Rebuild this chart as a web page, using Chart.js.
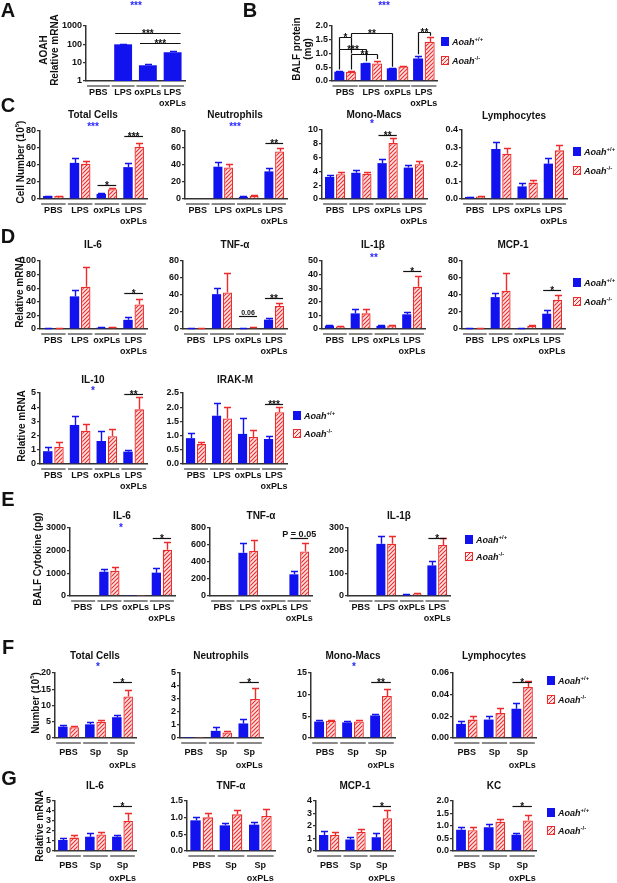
<!DOCTYPE html>
<html>
<head>
<meta charset="utf-8">
<script src="https://cdn.jsdelivr.net/npm/chart.js@4.4.0/dist/chart.umd.min.js"></script>
<style>
  body { margin: 0; background: #fff; }
  #fig { position: relative; width: 617px; height: 883px; overflow: hidden;
         font-family: 'Liberation Sans', Arial, sans-serif; font-weight: bold; color: #111; }
  #fig canvas { position: absolute; left: 0; top: 0; }
  .t { position: absolute; white-space: nowrap; transform: translate(-50%, -50%); line-height: 1; }
  .rot { transform: translate(-50%, -50%) rotate(-90deg); text-align: center; }
  .sw { position: absolute; width: 6px; height: 7px; }
  .sw.wt { background: #1212ee; border: 1px solid #1212ee; }
  .sw.ko { border: 1px solid #ee2b2b;
           background: repeating-linear-gradient(-45deg, #ee2b2b 0 1px, #fde3e3 1px 3px); }
  .leg { position: absolute; font-size: 9px; font-style: italic; white-space: nowrap;
         line-height: 1; transform: translateY(-50%); }
  .leg sup { font-size: 6px; font-style: normal; vertical-align: 4px; }
</style>
</head>
<body>
<div id="fig"></div>
<script>
// ===== DATA =====
const lpsCats = ['PBS', 'LPS', 'oxPLs', ['LPS', 'oxPLs']];
const spCats = ['PBS', 'Sp', ['Sp', 'oxPLs']];

// A - AOAH relative mRNA (Aoah+/+ only)
const aoahWT = [1, 100, 7.2, 37];
const aoahWTErr = [0, 6, 1.6, 4];

// B - BALF protein (mg)
const protWT = [0.34, 0.65, 0.46, 0.82];
const protKO = [0.34, 0.64, 0.53, 1.42];
const protWTErr = [0.02, 0.02, 0.02, 0.1];
const protKOErr = [0.02, 0.1, 0.03, 0.17];

// C - BALF cells (10^5)
const cTotalWT = [3.5, 42.5, 6, 37.5];
const cTotalKO = [3.5, 41.5, 11.5, 61.5];
const cTotalWTErr = [0.5, 5.5, 0.8, 5];
const cTotalKOErr = [0.5, 3.5, 1.5, 4.5];
const cNeutWT = [0, 38, 2.5, 32.5];
const cNeutKO = [0, 37, 3.5, 56];
const cNeutWTErr = [0, 5.5, 1.5, 4.5];
const cNeutKOErr = [0, 4, 1, 4];
const cMonoWT = [3.2, 3.8, 5.2, 4.55];
const cMonoKO = [3.6, 3.65, 8.1, 5.05];
const cMonoWTErr = [0.3, 0.35, 0.55, 0.4];
const cMonoKOErr = [0.3, 0.3, 0.8, 0.5];
const cLymWT = [0.012, 0.29, 0.073, 0.205];
const cLymKO = [0.015, 0.262, 0.095, 0.282];
const cLymWTErr = [0.002, 0.04, 0.017, 0.033];
const cLymKOErr = [0.002, 0.036, 0.016, 0.032];

// D - lung relative mRNA
const dIl6WT = [1, 48, 2, 13.5];
const dIl6KO = [1, 62, 2.5, 36];
const dIl6WTErr = [0.3, 10, 0.5, 4];
const dIl6KOErr = [0.3, 29, 0.8, 8.5];
const dTnfWT = [1, 41, 1, 11];
const dTnfKO = [0.8, 43, 1.5, 27];
const dTnfWTErr = [0.3, 7.5, 0.3, 2];
const dTnfKOErr = [0.3, 22.5, 0.5, 4];
const dIl1bWT = [2.5, 11.5, 2.3, 10.8];
const dIl1bKO = [1.8, 11.5, 2.6, 31];
const dIl1bWTErr = [0.6, 3.3, 0.6, 1.8];
const dIl1bKOErr = [0.5, 3.2, 0.5, 8.3];
const dMcpWT = [1, 37.5, 1, 18];
const dMcpKO = [1, 45, 3.5, 34.5];
const dMcpWTErr = [0.3, 4.5, 0.3, 4.5];
const dMcpKOErr = [0.3, 20.5, 0.8, 6];
const dIl10WT = [0.9, 2.75, 1.62, 0.87];
const dIl10KO = [1.22, 2.35, 1.95, 3.85];
const dIl10WTErr = [0.28, 0.65, 0.68, 0.1];
const dIl10KOErr = [0.3, 0.47, 0.5, 0.85];
const dIrakWT = [0.91, 1.7, 1.06, 0.88];
const dIrakKO = [0.7, 1.6, 0.95, 1.82];
const dIrakWTErr = [0.17, 0.45, 0.57, 0.09];
const dIrakKOErr = [0.09, 0.39, 0.26, 0.19];

// E - BALF cytokine (pg)
const eIl6WT = [0, 1070, 15, 1030];
const eIl6KO = [0, 1110, 8, 2040];
const eIl6WTErr = [0, 140, 0, 220];
const eIl6KOErr = [0, 170, 0, 340];
const eTnfWT = [0, 508, 0, 255];
const eTnfKO = [0, 530, 0, 525];
const eTnfWTErr = [0, 120, 0, 42];
const eTnfKOErr = [0, 125, 0, 100];
const eIl1bWT = [0, 230, 5, 135];
const eIl1bKO = [0, 230, 10, 225];
const eIl1bWTErr = [0, 35, 2, 20];
const eIl1bKOErr = [0, 36, 2, 30];

// F - S. pneumoniae, BALF cells (10^5)
const fTotalWT = [3.5, 4.2, 6.4];
const fTotalKO = [3.3, 5, 12.8];
const fTotalWTErr = [0.4, 0.6, 0.8];
const fTotalKOErr = [0.4, 0.6, 2];
const fNeutWT = [0.02, 0.55, 1.12];
const fNeutKO = [0.02, 0.42, 3.0];
const fNeutWTErr = [0, 0.3, 0.38];
const fNeutKOErr = [0, 0.15, 0.85];
const fMonoWT = [3.8, 3.6, 5.2];
const fMonoKO = [4.0, 3.8, 9.7];
const fMonoWTErr = [0.3, 0.4, 0.4];
const fMonoKOErr = [0.2, 0.3, 1.5];
const fLymWT = [0.013, 0.017, 0.027];
const fLymKO = [0.017, 0.023, 0.047];
const fLymWTErr = [0.0025, 0.003, 0.005];
const fLymKOErr = [0.003, 0.005, 0.006];

// G - S. pneumoniae, lung relative mRNA
const gIl6WT = [1.1, 1.43, 1.43];
const gIl6KO = [1.34, 1.65, 3.02];
const gIl6WTErr = [0.18, 0.35, 0.22];
const gIl6KOErr = [0.24, 0.27, 0.8];
const gTnfWT = [0.92, 0.77, 0.79];
const gTnfKO = [1.01, 1.1, 1.05];
const gTnfWTErr = [0.1, 0.07, 0.07];
const gTnfKOErr = [0.12, 0.12, 0.2];
const gMcpWT = [1.28, 0.92, 1.1];
const gMcpKO = [1.28, 1.52, 2.62];
const gMcpWTErr = [0.34, 0.18, 0.32];
const gMcpKOErr = [0.27, 0.23, 0.7];
const gKcWT = [0.85, 0.95, 0.65];
const gKcKO = [0.83, 1.17, 1.22];
const gKcWTErr = [0.13, 0.13, 0.08];
const gKcKOErr = [0.12, 0.13, 0.23];

// ===== STYLE =====
const W = 617, H = 883, YW = 40, XH = 32;
const BLUE = '#1212ee', RED = '#ee2b2b', INK = '#111', AXIS = '#333';
const FONT = "'Liberation Sans', Arial, sans-serif";
const fig = document.getElementById('fig');

function makeHatch() {
    const c = document.createElement('canvas');
    c.width = 4; c.height = 4;
    const x = c.getContext('2d');
    x.fillStyle = '#fde3e3';
    x.fillRect(0, 0, 4, 4);
    x.strokeStyle = RED;
    x.lineWidth = 1.1;
    x.beginPath();
    x.moveTo(0, 4); x.lineTo(4, 0);
    x.moveTo(-1, 1); x.lineTo(1, -1);
    x.moveTo(3, 5); x.lineTo(5, 3);
    x.stroke();
    return x.createPattern(c, 'repeat');
}
const HATCH = makeHatch();

// error bars, group underlines, significance brackets
const decor = {
    id: 'decor',
    afterDatasetsDraw(chart) {
        const ctx = chart.ctx, y = chart.scales.y;
        ctx.save();
        ctx.lineWidth = 1.4;
        chart.data.datasets.forEach((ds, i) => {
            chart.getDatasetMeta(i).data.forEach((bar, j) => {
                const e = ds.err[j];
                if (!e) return;
                const top = Math.round(y.getPixelForValue(ds.data[j] + e)) + 0.5;
                const x = Math.round(bar.x) + 0.5;
                ctx.strokeStyle = ds.borderColor;
                ctx.beginPath();
                ctx.moveTo(x, bar.y);
                ctx.lineTo(x, top);
                ctx.moveTo(x - 3.5, top);
                ctx.lineTo(x + 3.5, top);
                ctx.stroke();
            });
        });
        ctx.restore();
    },
    afterDraw(chart, args, opts) {
        const ctx = chart.ctx, xs = chart.scales.x, y = chart.scales.y;
        const area = chart.chartArea;
        ctx.save();
        // grey line under each group
        const slot = (area.right - area.left) / chart.data.labels.length;
        const half = slot * chart.data.datasets[0].categoryPercentage / 2 + 1;
        ctx.strokeStyle = '#8a8a8a';
        ctx.lineWidth = 2;
        chart.data.labels.forEach((l, i) => {
            const cx = xs.getPixelForValue(i);
            ctx.beginPath();
            ctx.moveTo(cx - half, area.bottom + 5);
            ctx.lineTo(cx + half, area.bottom + 5);
            ctx.stroke();
        });
        // brackets
        ctx.strokeStyle = INK;
        ctx.fillStyle = INK;
        ctx.lineWidth = 1.2;
        (opts.brackets || []).forEach(b => {
            const p = chart.getDatasetMeta(b.a[1]).data[b.a[0]];
            const q = chart.getDatasetMeta(b.b[1]).data[b.b[0]];
            const yy = Math.round(y.getPixelForValue(b.y)) + 0.5;
            let x1, x2;
            if (b.drop) {
                x1 = Math.round(p.x) + 0.5;
                x2 = Math.round(q.x) + 0.5;
            } else {
                x1 = p.x - p.width / 2 + 1;
                x2 = q.x + q.width / 2 - 1;
            }
            ctx.beginPath();
            ctx.moveTo(x1, yy);
            ctx.lineTo(x2, yy);
            if (b.drop) {
                ctx.moveTo(x1, yy);
                ctx.lineTo(x1, y.getPixelForValue(b.drop[0]));
                ctx.moveTo(x2, yy);
                ctx.lineTo(x2, y.getPixelForValue(b.drop[1]));
            }
            ctx.stroke();
            const star = b.text.indexOf('*') >= 0;
            ctx.font = star ? `bold 10px ${FONT}` : `bold ${b.size || 8}px ${FONT}`;
            ctx.textAlign = 'center';
            ctx.textBaseline = 'alphabetic';
            const lx = b.lx !== undefined ? x1 + b.lx : (x1 + x2) / 2;
            ctx.fillText(b.text, lx, star ? yy + 3 : yy - 2);
        });
        ctx.restore();
    }
};

function panel(box, labels, series, yo, brackets) {
    const cv = document.createElement('canvas');
    cv.width = W;
    cv.height = H;
    fig.appendChild(cv);
    const datasets = series.map(s => ({
        data: s[0],
        err: s[1],
        backgroundColor: s[2] ? HATCH : BLUE,
        borderColor: s[2] ? RED : BLUE,
        borderWidth: s[2] ? 1.3 : 0,
        categoryPercentage: yo.cat || 0.84,
        barPercentage: yo.bar || 0.84
    }));
    const tickFont = { family: FONT, size: 9, weight: 'bold', lineHeight: 1.22 };
    const labelFont = { family: FONT, size: 9, weight: 'bold', lineHeight: yo.lh || 1.22 };
    new Chart(cv, {
        type: 'bar',
        data: { labels, datasets },
        options: {
            responsive: false,
            animation: false,
            events: [],
            layout: {
                padding: { left: box[0] - YW, top: box[1], right: W - box[2], bottom: H - box[3] - XH }
            },
            plugins: {
                legend: { display: false },
                tooltip: { enabled: false },
                decor: { brackets: brackets || [] }
            },
            scales: {
                x: {
                    grid: { display: false, drawTicks: false },
                    border: { display: true, color: AXIS, width: 1.5 },
                    ticks: { color: INK, font: labelFont, padding: yo.lpad || 6, maxRotation: 0, autoSkip: false },
                    afterFit: s => { s.height = XH; }
                },
                y: {
                    type: yo.log ? 'logarithmic' : 'linear',
                    min: yo.log ? 1 : 0,
                    max: yo.max,
                    grid: { drawOnChartArea: false, drawTicks: true, tickLength: 3, color: AXIS, lineWidth: 1.3 },
                    border: { display: true, color: AXIS, width: 1.5 },
                    ticks: {
                        color: INK, font: tickFont, padding: 1, stepSize: yo.step, autoSkip: false,
                        callback: v => yo.dec ? Number(v).toFixed(yo.dec) : String(v)
                    },
                    afterBuildTicks: yo.log ? s => { s.ticks = [1, 10, 100, 1000].map(value => ({ value })); } : undefined,
                    afterFit: s => { s.width = YW; }
                }
            }
        },
        plugins: [decor]
    });
}

// ===== TEXT =====
function txt(html, x, y, size, extra) {
    const d = document.createElement('div');
    d.className = 't' + (extra && extra.rot ? ' rot' : '');
    d.style.left = x + 'px';
    d.style.top = y + 'px';
    d.style.fontSize = size + 'px';
    if (extra && extra.color) d.style.color = extra.color;
    if (extra && extra.lh) d.style.lineHeight = extra.lh;
    d.innerHTML = html;
    fig.appendChild(d);
}
const letter = (s, x, y) => txt(s, x, y, 20);
const title = (s, x, y) => txt(s, x, y, 10);
const blueStar = (s, x, y) => txt(s, x, y + 2, 10, { color: '#2a2aff' });
const yTitle = (s, x, y) => txt(s, x, y, 10, { rot: true, lh: '11px' });

function legend(x, y1, y2) {
    [[y1, 'wt', '+/+'], [y2, 'ko', '-/-']].forEach(([y, k, sup]) => {
        const s = document.createElement('div');
        s.className = 'sw ' + k;
        s.style.left = x + 'px';
        s.style.top = (y - 4) + 'px';
        fig.appendChild(s);
        const l = document.createElement('div');
        l.className = 'leg';
        l.style.left = (x + 11) + 'px';
        l.style.top = y + 'px';
        l.innerHTML = 'Aoah<sup>' + sup + '</sup>';
        fig.appendChild(l);
    });
}

// ===== PANELS =====
const spAxis = { lpad: 8, lh: 1.45 };
// A
panel([86, 26, 185, 81], lpsCats, [[aoahWT, aoahWTErr, false]], { log: true, max: 1000, bar: 0.86 },
    [{ a: [1, 0], b: [3, 0], y: 400, text: '***' }, { a: [2, 0], b: [3, 0], y: 115, text: '***' }]);
// B
panel([332, 26, 437, 81], lpsCats, [[protWT, protWTErr, false], [protKO, protKOErr, true]],
    { max: 2, step: 0.5, dec: 1, cat: 0.88, bar: 0.87 },
    [{ a: [0, 0], b: [1, 0], y: 1.15, text: '***', drop: [0.42, 0.72] },
     { a: [0, 1], b: [1, 1], y: 1.0, text: '**', drop: [0.42, 0.8] },
     { a: [0, 0], b: [0, 1], y: 1.6, text: '*', drop: [1.15, 1.0] },
     { a: [0, 1], b: [2, 0], y: 1.75, text: '**', drop: [1.6, 0.52] },
     { a: [3, 0], b: [3, 1], y: 1.77, text: '**', drop: [0.97, 1.65] }]);
// C
panel([40, 131, 147, 199], lpsCats, [[cTotalWT, cTotalWTErr, false], [cTotalKO, cTotalKOErr, true]],
    { max: 80, step: 20 },
    [{ a: [2, 0], b: [2, 1], y: 16.5, text: '*' }, { a: [3, 0], b: [3, 1], y: 74, text: '***' }]);
panel([185, 131, 287, 199], lpsCats, [[cNeutWT, cNeutWTErr, false], [cNeutKO, cNeutKOErr, true]],
    { max: 80, step: 20 },
    [{ a: [3, 0], b: [3, 1], y: 66, text: '**' }]);
panel([322, 130, 427, 199], lpsCats, [[cMonoWT, cMonoWTErr, false], [cMonoKO, cMonoKOErr, true]],
    { max: 10, step: 2 },
    [{ a: [2, 0], b: [2, 1], y: 9.3, text: '**' }]);
panel([462, 130, 567, 199], lpsCats, [[cLymWT, cLymWTErr, false], [cLymKO, cLymKOErr, true]],
    { max: 0.4, step: 0.1, dec: 1 });
// D row 1
panel([40, 261, 147, 329], lpsCats, [[dIl6WT, dIl6WTErr, false], [dIl6KO, dIl6KOErr, true]],
    { max: 100, step: 20 },
    [{ a: [3, 0], b: [3, 1], y: 53, text: '*' }]);
panel([183, 261, 287, 329], lpsCats, [[dTnfWT, dTnfWTErr, false], [dTnfKO, dTnfKOErr, true]],
    { max: 80, step: 20 },
    [{ a: [2, 0], b: [2, 1], y: 15.3, text: '0.06', size: 7 }, { a: [3, 0], b: [3, 1], y: 36.5, text: '**' }]);
panel([322, 261, 425, 329], lpsCats, [[dIl1bWT, dIl1bWTErr, false], [dIl1bKO, dIl1bKOErr, true]],
    { max: 50, step: 10 },
    [{ a: [3, 0], b: [3, 1], y: 42.6, text: '*' }]);
panel([462, 261, 565, 329], lpsCats, [[dMcpWT, dMcpWTErr, false], [dMcpKO, dMcpKOErr, true]],
    { max: 80, step: 20 },
    [{ a: [3, 0], b: [3, 1], y: 45.9, text: '*' }]);
// D row 2
panel([40, 393, 147, 464], lpsCats, [[dIl10WT, dIl10WTErr, false], [dIl10KO, dIl10KOErr, true]],
    { max: 5, step: 1 },
    [{ a: [3, 0], b: [3, 1], y: 4.95, text: '**' }]);
panel([183, 393, 287, 464], lpsCats, [[dIrakWT, dIrakWTErr, false], [dIrakKO, dIrakKOErr, true]],
    { max: 2.5, step: 0.5, dec: 1 },
    [{ a: [3, 0], b: [3, 1], y: 2.11, text: '***' }]);
// E
panel([70, 528, 175, 596], lpsCats, [[eIl6WT, eIl6WTErr, false], [eIl6KO, eIl6KOErr, true]],
    { max: 3000, step: 1000 },
    [{ a: [3, 0], b: [3, 1], y: 2560, text: '*' }]);
panel([210, 528, 312, 596], lpsCats, [[eTnfWT, eTnfWTErr, false], [eTnfKO, eTnfKOErr, true]],
    { max: 800, step: 200 },
    [{ a: [3, 0], b: [3, 1], y: 682, text: 'P = 0.05', size: 9 }]);
panel([348, 528, 450, 596], lpsCats, [[eIl1bWT, eIl1bWTErr, false], [eIl1bKO, eIl1bKOErr, true]],
    { max: 300, step: 100 },
    [{ a: [3, 0], b: [3, 1], y: 256, text: '*' }]);
// F
panel([55, 673, 136, 738], spCats, [[fTotalWT, fTotalWTErr, false], [fTotalKO, fTotalKOErr, true]],
    { max: 20, step: 5, ...spAxis },
    [{ a: [2, 0], b: [2, 1], y: 17.2, text: '*' }]);
panel([180, 673, 263, 738], spCats, [[fNeutWT, fNeutWTErr, false], [fNeutKO, fNeutKOErr, true]],
    { max: 5, step: 1, ...spAxis },
    [{ a: [2, 0], b: [2, 1], y: 4.3, text: '*' }]);
panel([311, 673, 395, 738], spCats, [[fMonoWT, fMonoWTErr, false], [fMonoKO, fMonoKOErr, true]],
    { max: 15, step: 5, ...spAxis },
    [{ a: [2, 0], b: [2, 1], y: 12.9, text: '**' }]);
panel([453, 673, 536, 738], spCats, [[fLymWT, fLymWTErr, false], [fLymKO, fLymKOErr, true]],
    { max: 0.06, step: 0.02, dec: 2, ...spAxis },
    [{ a: [2, 0], b: [2, 1], y: 0.0517, text: '*' }]);
// G
panel([55, 801, 136, 851], spCats, [[gIl6WT, gIl6WTErr, false], [gIl6KO, gIl6KOErr, true]],
    { max: 5, step: 1, ...spAxis },
    [{ a: [2, 0], b: [2, 1], y: 4.55, text: '*' }]);
panel([187, 801, 275, 851], spCats, [[gTnfWT, gTnfWTErr, false], [gTnfKO, gTnfKOErr, true]],
    { max: 1.5, step: 0.5, dec: 1, ...spAxis });
panel([316, 801, 395, 851], spCats, [[gMcpWT, gMcpWTErr, false], [gMcpKO, gMcpKOErr, true]],
    { max: 4, step: 1, ...spAxis },
    [{ a: [2, 0], b: [2, 1], y: 3.64, text: '*' }]);
panel([453, 801, 536, 851], spCats, [[gKcWT, gKcWTErr, false], [gKcKO, gKcKOErr, true]],
    { max: 2, step: 0.5, dec: 1, ...spAxis },
    [{ a: [2, 0], b: [2, 1], y: 1.82, text: '*' }]);

// ===== LABELS =====
letter('A', 8, 10); letter('B', 250, 10); letter('C', 8, 105); letter('D', 8, 236);
letter('E', 8, 499); letter('F', 8, 647); letter('G', 9, 778);

yTitle('AOAH<br>Relative mRNA', 49, 50);
yTitle('BALF protein<br>(mg)', 302, 49);
yTitle('Cell Number (10<sup style="font-size:6px">5</sup>)', 19, 162);
yTitle('Relative mRNA', 19, 292);
yTitle('Relative mRNA', 21, 426);
yTitle('BALF Cytokine (pg)', 37, 559);
yTitle('Number (10<sup style="font-size:6px">5</sup>)', 34, 703);
yTitle('Relative mRNA', 39, 826);

title('Total Cells', 93, 115); title('Neutrophils', 235, 115);
title('Mono-Macs', 374, 115); title('Lymphocytes', 514, 116);
title('IL-6', 93, 245); title('TNF-α', 235, 245); title('IL-1β', 373, 245); title('MCP-1', 513, 245);
title('IL-10', 93, 380); title('IRAK-M', 235, 380);
title('IL-6', 122, 516); title('TNF-α', 261, 516); title('IL-1β', 399, 516);
title('Total Cells', 95, 656); title('Neutrophils', 221, 656); title('Mono-Macs', 353, 656); title('Lymphocytes', 494, 656);
title('IL-6', 95, 786); title('TNF-α', 231, 786); title('MCP-1', 355, 786); title('KC', 494, 786);

blueStar('***', 136, 4); blueStar('***', 384, 4);
blueStar('***', 93, 125); blueStar('***', 235, 125); blueStar('*', 372, 122);
blueStar('**', 374, 256); blueStar('*', 93, 389);
blueStar('*', 121, 526);
blueStar('*', 98, 665); blueStar('*', 354, 665);

legend(441, 41, 60);
legend(573, 151, 170);
legend(573, 282, 301);
legend(293, 415, 433);
legend(465, 539, 556);
legend(547, 680, 699);
legend(547, 812, 830);
</script>
</body>
</html>
